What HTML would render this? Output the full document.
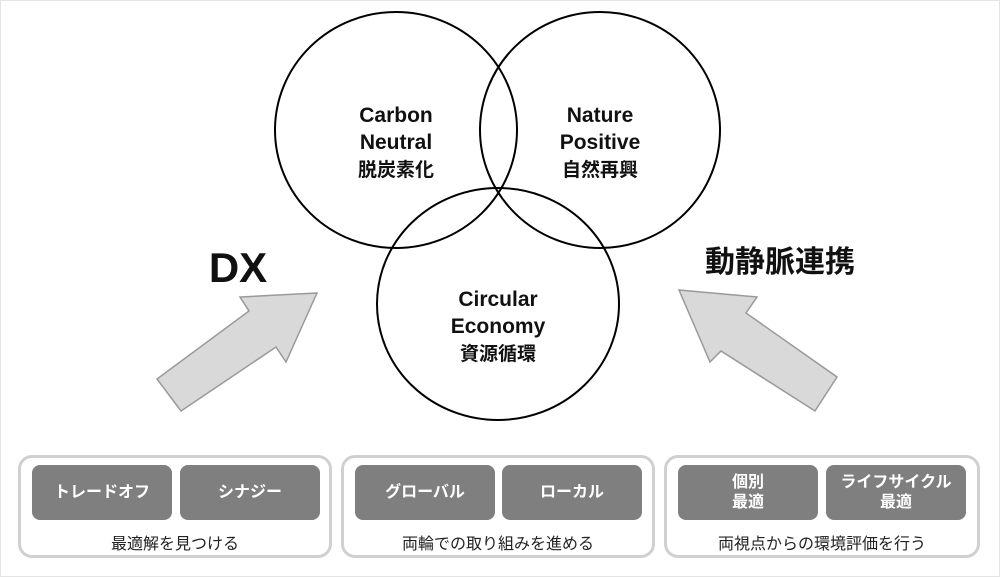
<!DOCTYPE html>
<html><head><meta charset="utf-8"><style>
body{margin:0;width:1000px;height:577px;background:#fff;overflow:hidden;font-family:"Liberation Sans","Noto Sans CJK JP",sans-serif;}
.g{position:absolute;top:455px;height:103px;border:3px solid #d0d0d0;border-radius:14px;box-sizing:border-box;background:#fff}
.b{position:absolute;top:465px;height:55px;width:140px;background:#7f7f7f;border-radius:8px;color:#fff;font-weight:bold;font-size:16px;display:flex;align-items:center;justify-content:center;text-align:center;line-height:20px}
.l{position:absolute;top:530px;font-size:16px;color:#222;text-align:center}
</style></head><body>
<svg width="1000" height="577" style="position:absolute;left:0;top:0">
<rect x="0.5" y="0.5" width="999" height="576" fill="none" stroke="#e4e4e4"/>
<ellipse cx="396" cy="130" rx="121" ry="118" fill="none" stroke="#000" stroke-width="2"/>
<ellipse cx="600" cy="130" rx="120" ry="118" fill="none" stroke="#000" stroke-width="2"/>
<ellipse cx="498" cy="304" rx="121" ry="116" fill="none" stroke="#000" stroke-width="2"/>
<polygon points="317,293 240,297 249,311 157,379 181,411 276,347 286,362" fill="#d9d9d9" stroke="#999" stroke-width="1.5"/>
<polygon points="679,290 757,297 746,313 837,377 815,411 721,351 710,362" fill="#d9d9d9" stroke="#999" stroke-width="1.5"/>
<g font-weight="bold" font-size="21" text-anchor="middle" fill="#111">
<text x="396" y="122">Carbon</text><text x="396" y="149">Neutral</text><text x="396" y="176" font-size="19">脱炭素化</text>
<text x="600" y="122">Nature</text><text x="600" y="149">Positive</text><text x="600" y="176" font-size="19">自然再興</text>
<text x="498" y="306">Circular</text><text x="498" y="333">Economy</text><text x="498" y="360" font-size="19">資源循環</text>
<text x="238" y="282" font-size="42">DX</text>
<text x="780" y="272" font-size="30">動静脈連携</text>
</g>
</svg>
<div class="g" style="left:18px;width:314px"></div>
<div class="g" style="left:341px;width:314px"></div>
<div class="g" style="left:664px;width:316px"></div>
<div class="b" style="left:32px">トレードオフ</div>
<div class="b" style="left:180px">シナジー</div>
<div class="b" style="left:355px">グローバル</div>
<div class="b" style="left:502px">ローカル</div>
<div class="b" style="left:678px">個別<br>最適</div>
<div class="b" style="left:826px">ライフサイクル<br>最適</div>
<div class="l" style="left:18px;width:314px">最適解を見つける</div>
<div class="l" style="left:341px;width:314px">両輪での取り組みを進める</div>
<div class="l" style="left:664px;width:316px">両視点からの環境評価を行う</div>
</body></html>
